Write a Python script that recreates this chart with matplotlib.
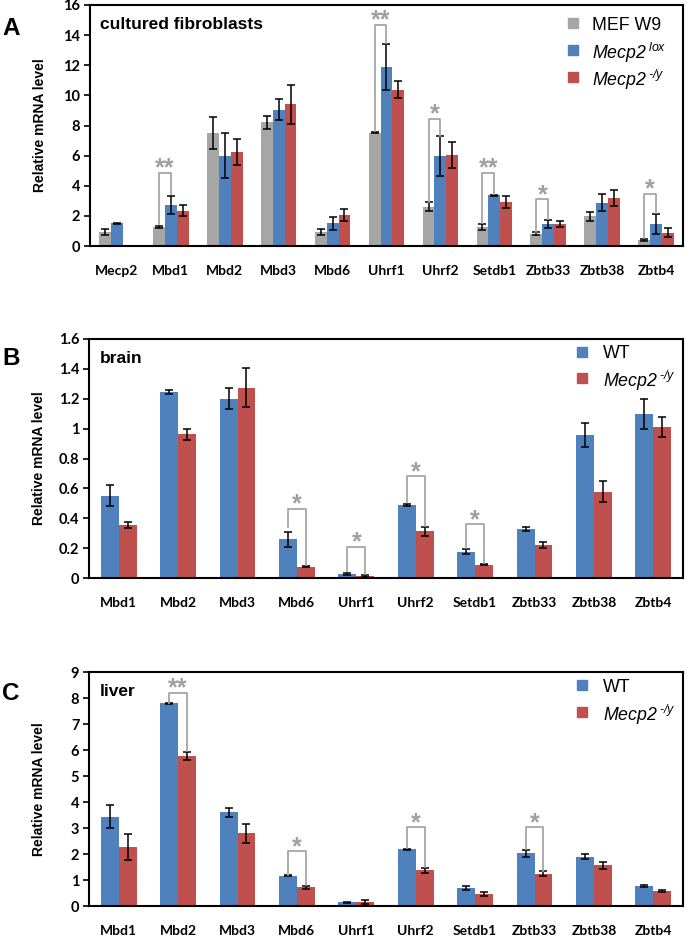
import numpy as np
import matplotlib
matplotlib.use("Agg")
import matplotlib.pyplot as plt

plt.rcParams['mathtext.fontset'] = 'custom'
plt.rcParams['mathtext.it'] = 'Liberation Sans:italic'
plt.rcParams['mathtext.rm'] = 'Liberation Sans:italic'

# ---------------- data ----------------
genes_a = ["Mecp2", "Mbd1", "Mbd2", "Mbd3", "Mbd6", "Uhrf1", "Uhrf2", "Setdb1", "Zbtb33", "Zbtb38", "Zbtb4"]
a_mef = [0.95, 1.25, 7.5, 8.2, 0.9, 7.52, 2.6, 1.26, 0.82, 1.97, 0.42]
a_mef_err = [0.2, 0.07, 1.05, 0.45, 0.2, 0.05, 0.3, 0.2, 0.08, 0.28, 0.07]
a_lox = [1.5, 2.75, 6.0, 9.05, 1.5, 11.88, 5.95, 3.36, 1.48, 2.88, 1.48]
a_lox_err = [0.03, 0.6, 1.5, 0.7, 0.45, 1.55, 1.33, 0.03, 0.27, 0.57, 0.67]
a_ko = [np.nan, 2.35, 6.25, 9.4, 2.05, 10.38, 6.06, 2.9, 1.48, 3.16, 0.88]
a_ko_err = [np.nan, 0.35, 0.85, 1.3, 0.4, 0.57, 0.87, 0.4, 0.2, 0.53, 0.3]

genes_bc = ["Mbd1", "Mbd2", "Mbd3", "Mbd6", "Uhrf1", "Uhrf2", "Setdb1", "Zbtb33", "Zbtb38", "Zbtb4"]
b_wt = [0.55, 1.245, 1.2, 0.26, 0.027, 0.49, 0.177, 0.327, 0.958, 1.1]
b_wt_err = [0.07, 0.015, 0.07, 0.05, 0.008, 0.006, 0.015, 0.013, 0.08, 0.1]
b_ko = [0.355, 0.962, 1.275, 0.075, 0.012, 0.312, 0.088, 0.218, 0.577, 1.01]
b_ko_err = [0.02, 0.035, 0.13, 0.003, 0.005, 0.03, 0.003, 0.02, 0.07, 0.065]

c_wt = [3.44, 7.79, 3.6, 1.16, 0.14, 2.18, 0.69, 2.02, 1.9, 0.77]
c_wt_err = [0.44, 0.02, 0.16, 0.02, 0.01, 0.02, 0.08, 0.14, 0.1, 0.03]
c_ko = [2.26, 5.78, 2.8, 0.72, 0.15, 1.38, 0.47, 1.24, 1.57, 0.59]
c_ko_err = [0.5, 0.16, 0.36, 0.05, 0.08, 0.1, 0.08, 0.09, 0.14, 0.04]

# significance brackets: (group, bar_left, bar_right, top, left_bottom, right_bottom, label)
sig_a = [(1, 0, 1, 4.85, 1.45, 3.45, "**"), (5, 0, 1, 14.7, 7.65, 13.5, "**"),
         (6, 0, 1, 8.45, 2.95, 7.3, "*"), (7, 0, 1, 4.85, 1.5, 3.45, "**"),
         (8, 0, 1, 3.1, 0.95, 1.8, "*"), (10, 0, 1, 3.45, 0.55, 2.2, "*")]
sig_b = [(3, 0, 1, 0.465, 0.34, 0.085, "*"), (4, 0, 1, 0.21, 0.045, 0.025, "*"),
         (5, 0, 1, 0.68, 0.51, 0.35, "*"), (6, 0, 1, 0.36, 0.2, 0.1, "*")]
sig_c = [(1, 0, 1, 8.2, 7.82, 5.97, "**"), (3, 0, 1, 2.1, 1.2, 0.8, "*"),
         (5, 0, 1, 3.03, 2.22, 1.5, "*"), (7, 0, 1, 3.03, 2.18, 1.35, "*")]

KO_LABEL = "$Mecp2^{\\;\u2010/y}$"
labels_a = ["MEF W9", r"$Mecp2^{\;lox}$", KO_LABEL]
labels_bc = ["WT", KO_LABEL]

GRAY = "#A6A6A6"
BLUE = "#4F81BD"
RED = "#C0504D"
SIGC = "#A0A0A0"

W, H = 685, 936
fig = plt.figure(figsize=(W / 100, H / 100), dpi=100)


def ax_rect(left, top, right, bottom):
    return [left / W, 1 - bottom / H, (right - left) / W, (bottom - top) / H]


xtick_font = dict(family="Lato", weight="bold", size=10)
ytick_font = dict(family="Lato", weight="bold", size=10.5)


def setup(ax, genes, ymax, ystep, yticklabels):
    n = len(genes)
    ax.set_xlim(-0.5, n - 0.5)
    ax.set_ylim(0, ymax)
    ax.set_xticks(np.arange(n))
    ax.set_xticklabels(genes, **xtick_font)
    ax.tick_params(axis="x", length=0, pad=14)
    ticks = np.arange(0, ymax + ystep / 2, ystep)
    ax.set_yticks(ticks)
    ax.set_yticklabels(yticklabels, **ytick_font)
    ax.tick_params(axis="y", length=4, width=1.2, direction="out", pad=3)
    for s in ax.spines.values():
        s.set_linewidth(1.5)
        s.set_color("black")
    ax.set_ylabel("Relative mRNA level", family="Liberation Sans", weight="bold", size=10)
    ax.yaxis.set_label_coords(-0.072, 0.5)


def draw_bars(ax, series, errs, colors, width):
    k = len(series)
    x = np.arange(len(series[0]))
    offs = (np.arange(k) - (k - 1) / 2) * width
    for vals, err, col, off in zip(series, errs, colors, offs):
        ax.bar(x + off, vals, width=width, color=col, zorder=2)
        ax.errorbar(x + off, vals, yerr=err, fmt="none", ecolor="black",
                    elinewidth=1.1, capsize=2.6, capthick=1.1, zorder=3)
    return offs


def draw_sig(ax, sigs, offs):
    for g, a, b, top, lb, rb, lab in sigs:
        x1 = g + offs[a]
        x2 = g + offs[b]
        ax.plot([x1, x1, x2, x2], [lb, top, top, rb], color=GRAY, lw=1.3, zorder=4)
        ax.annotate(lab, xy=((x1 + x2) / 2, top), xytext=(0, -2.0), textcoords="offset points",
                    ha="center", va="baseline", color=SIGC, fontsize=18,
                    family="Liberation Sans", weight="bold", zorder=4, annotation_clip=False)


def legend(ax, labels, colors, marker_x, text_x, rows):
    for lab, col, y in zip(labels, colors, rows):
        yy = 1 - y / H
        fig.add_artist(plt.Line2D([marker_x / W], [yy], marker="s", markersize=7.2, color=col,
                                  linestyle="none", transform=fig.transFigure))
        fig.text(text_x / W, yy, lab, family="Liberation Sans", size=12.8, va="center_baseline",
                 ha="left")


# ---------------- Panel A ----------------
axA = fig.add_axes(ax_rect(90, 5, 683, 246))
setup(axA, genes_a, 16, 2, [str(v) for v in range(0, 17, 2)])
offA = draw_bars(axA, [a_mef, a_lox, a_ko], [a_mef_err, a_lox_err, a_ko_err], [GRAY, BLUE, RED], 0.22)
draw_sig(axA, sig_a, offA)
fig.text(100 / W, 1 - 23 / H, "cultured fibroblasts", family="Liberation Sans",
         weight="bold", size=12.5, va="center_baseline", ha="left")
legend(axA, labels_a, [GRAY, BLUE, RED], 573, 592, [23, 50, 77])

# ---------------- Panel B ----------------
axB = fig.add_axes(ax_rect(89, 339, 683, 578))
setup(axB, genes_bc, 1.6, 0.2, ["0", "0.2", "0.4", "0.6", "0.8", "1", "1.2", "1.4", "1.6"])
offB = draw_bars(axB, [b_wt, b_ko], [b_wt_err, b_ko_err], [BLUE, RED], 0.3)
draw_sig(axB, sig_b, offB)
fig.text(100 / W, 1 - 357 / H, "brain", family="Liberation Sans",
         weight="bold", size=12.5, va="center_baseline", ha="left")
legend(axB, labels_bc, [BLUE, RED], 582, 603, [352, 378])

# ---------------- Panel C ----------------
axC = fig.add_axes(ax_rect(89, 672, 683, 906))
setup(axC, genes_bc, 9, 1, [str(v) for v in range(0, 10)])
offC = draw_bars(axC, [c_wt, c_ko], [c_wt_err, c_ko_err], [BLUE, RED], 0.3)
draw_sig(axC, sig_c, offC)
fig.text(100 / W, 1 - 690 / H, "liver", family="Liberation Sans",
         weight="bold", size=12.5, va="center_baseline", ha="left")
legend(axC, labels_bc, [BLUE, RED], 582, 603, [685, 712])

# panel letters
for letter, y in [("A", 26), ("B", 356), ("C", 691)]:
    fig.text(2 / W, 1 - y / H, letter, family="Liberation Sans", weight="bold", size=17.5,
             va="center_baseline", ha="left")

fig.savefig("out.png", dpi=100)
